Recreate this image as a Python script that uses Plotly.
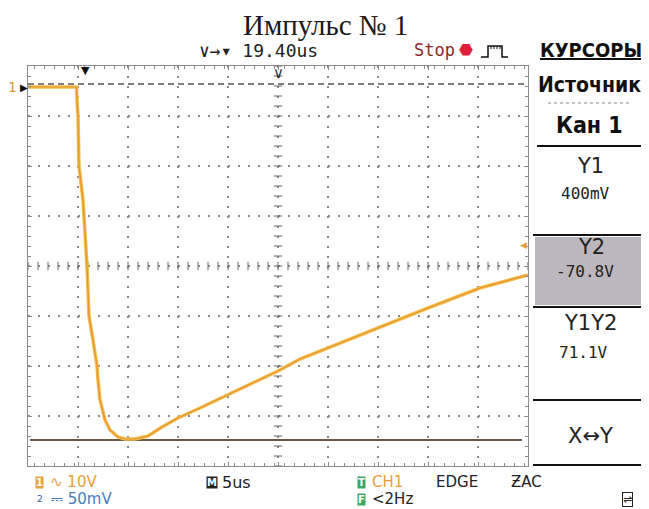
import numpy as np
import plotly.graph_objects as go

# ---- data (oscilloscope CH1 trace) ----
time_us = [-5.6, -3.0, -1.0, -0.75, -0.7, -0.6, -0.5, -0.1, 0.3, 0.5, 0.9, 1.3, 1.4, 1.6,
           2.1, 2.6, 3.4, 4.1, 5.1, 6.4, 7.8, 9.4, 11.6, 14.4, 19.4, 21.6, 24.6, 29.4,
           34.4, 39.6, 44.4]
volts = [-0.2, -0.2, -0.2, -0.2, -2.8, -6.0, -16.0, -22.8, -36.0, -46.0, -50.8, -56.0, -58.8, -62.8,
         -66.8, -68.8, -70.2, -70.6, -70.6, -70.0, -68.2, -66.4, -64.4, -61.8, -57.0, -54.6, -52.2, -48.4,
         -44.4, -40.4, -37.8]
cursor_y1 = 0.4      # V
cursor_y2 = -70.8    # V
delta_y = 71.1
trigger_level = -31.8
h_position_us = 19.40
timebase_us = 5
vdiv = 10

# axis geometry: 10 divisions horizontally, 8 vertically
x_range = [-5.6, 44.4]
y_range = [-76.0, 4.0]
x_tick0, y_tick0 = -0.6, -6.0

# page pixel geometry (browser body margin of 8px is compensated)
OFF = 8
W, H = 649 - OFF, 509 - OFF
L, R, T, B = 28, 528, 66, 466   # page pixels of plot area


def fx(x):
    return (x - L) / (R - L)


def fy(y):
    return (B - y) / (B - T)


fig = go.Figure()

# centre crosshair sub-division ticks
xc = x_tick0 + 4 * timebase_us
yc = y_tick0 - 3 * vdiv
sub_x = np.arange(x_range[0], x_range[1] + 1e-9, timebase_us / 5)
sub_y = np.arange(y_range[0], y_range[1] + 1e-9, vdiv / 5)
fig.add_trace(go.Scatter(x=sub_x, y=[yc] * len(sub_x), mode="markers",
                         marker=dict(symbol="line-ns", size=6, line=dict(width=1, color="#666")),
                         hoverinfo="skip"))
fig.add_trace(go.Scatter(x=[xc] * len(sub_y), y=sub_y, mode="markers",
                         marker=dict(symbol="line-ew", size=6, line=dict(width=1, color="#666")),
                         hoverinfo="skip"))

# cursors
fig.add_trace(go.Scatter(x=x_range, y=[cursor_y1, cursor_y1], mode="lines",
                         line=dict(color="#555", width=1.5, dash="6px,4px"), hoverinfo="skip"))
fig.add_trace(go.Scatter(x=[x_range[0] + 0.2, x_range[1] - 0.6], y=[cursor_y2, cursor_y2], mode="lines",
                         line=dict(color="#6a5a40", width=2), hoverinfo="skip"))

# waveform
fig.add_trace(go.Scatter(x=time_us, y=volts, mode="lines",
                         line=dict(color="#F4BE4C", width=3.5), hoverinfo="skip"))
fig.add_trace(go.Scatter(x=time_us, y=volts, mode="lines",
                         line=dict(color="#E39330", width=1.2), hoverinfo="skip"))

axis_common = dict(showline=True, mirror="allticks", linecolor="#8a8a8a", linewidth=1,
                   ticks="inside", ticklen=4, tickcolor="#8a8a8a", showticklabels=False,
                   showgrid=True, gridcolor="#8a8a8a", gridwidth=1.5, griddash="2px,8px",
                   zeroline=False, fixedrange=True)
fig.update_xaxes(range=x_range, tick0=x_tick0, dtick=timebase_us,
                 minor=dict(ticks="inside", ticklen=3, dtick=timebase_us / 5, tickcolor="#8a8a8a", showgrid=False),
                 **axis_common)
fig.update_yaxes(range=y_range, tick0=y_tick0, dtick=vdiv,
                 minor=dict(ticks="inside", ticklen=3, dtick=vdiv / 5, tickcolor="#8a8a8a", showgrid=False),
                 **axis_common)

ann = []


def txt(x, y, s, size=14, color="#222", family="DejaVu Sans Mono", xa="center", ya="middle", **kw):
    ann.append(dict(x=fx(x), y=fy(y), xref="paper", yref="paper", text=s, showarrow=False,
                    xanchor=xa, yanchor=ya, font=dict(size=size, color=color, family=family), **kw))


NARROW = "Liberation Sans Narrow, DejaVu Sans Condensed, Arial Narrow, sans-serif"

# title
txt(325, 8.5, "Импульс № 1", size=29, color="#1a1a1a", family="Liberation Serif, Times New Roman, serif",
    ya="top", borderpad=0)

# top status bar
txt(258, 51, "∨→▾ 19.40us", size=18, color="#222")
txt(434, 50, "Stop", size=17, color="#8a2a2a")
txt(466, 50, "⬣", size=16, color="#e0203a", family="DejaVu Sans")
txt(591, 50, "<b><u>КУРСОРЫ</u></b>", size=20, color="#111", family=NARROW)

# markers around graticule
txt(12, 87, "1", size=14, color="#D89A3A", family="DejaVu Sans")
txt(24, 87, "▶", size=10, color="#111", family="DejaVu Sans")
txt(85, 70, "▼", size=11, color="#111", family="DejaVu Sans")
txt(278, 73, "∨", size=15, color="#333", family="DejaVu Sans")
txt(523, 245, "◀", size=9, color="#E8A040", family="DejaVu Sans")

# right menu panel
txt(589, 85, "<b>Источник</b>", size=21, color="#111", family=NARROW)
txt(589, 125, "<b>Кан 1</b>", size=23, color="#111", family=NARROW)
txt(590, 166, "Y1", size=21, color="#222", family="DejaVu Sans")
txt(585, 193, "400mV", size=16, color="#222")
txt(591, 247, "Y2", size=21, color="#222", family="DejaVu Sans")
txt(585, 271, "-70.8V", size=16, color="#222")
txt(590, 323, "Y1Y2", size=21, color="#222", family="DejaVu Sans")
txt(583, 352, "71.1V", size=16, color="#222")
txt(590, 436, "X↔Y", size=21, color="#222", family="DejaVu Sans")


# bottom status lines
def badge(x, y, s, bg, fg="white"):
    ann.append(dict(x=fx(x), y=fy(y), xref="paper", yref="paper", text="<b>%s</b>" % s, showarrow=False,
                    xanchor="center", yanchor="middle", bgcolor=bg, borderpad=0,
                    font=dict(size=10, color=fg, family="DejaVu Sans")))


badge(39, 482, "1", "#E8A040")
txt(48, 482, "∿ 10V", size=15, color="#E8A040", family="DejaVu Sans", xa="left")
badge(212, 482, "M", "#222")
txt(220, 482, "5us", size=16, color="#222", family="DejaVu Sans", xa="left")
badge(361, 482, "T", "#3aa860")
txt(370, 482, "CH1", size=15, color="#E8A040", family="DejaVu Sans", xa="left")
txt(434, 482, "EDGE", size=15, color="#222", family="DejaVu Sans", xa="left")
txt(509, 482, "ƵAC", size=15, color="#222", family="DejaVu Sans", xa="left")
txt(40, 499, "2", size=9, color="#3a5a9a", family="DejaVu Sans")
txt(49, 499, "⎓ 50mV", size=15, color="#4a7fc0", family="DejaVu Sans", xa="left")
badge(361, 499, "F", "#3aa860")
txt(370, 499, "<2Hz", size=15, color="#222", family="DejaVu Sans", xa="left")
ann.append(dict(x=fx(627), y=fy(499), xref="paper", yref="paper", text="⇌", showarrow=False,
                xanchor="center", yanchor="middle", bordercolor="#222", borderwidth=1, borderpad=0,
                font=dict(size=11, color="#222", family="DejaVu Sans")))

shapes = []


def hline(y, x0, x1, color="#111", width=2, dash="solid"):
    shapes.append(dict(type="line", xref="paper", yref="paper", x0=fx(x0), x1=fx(x1), y0=fy(y), y1=fy(y),
                       line=dict(color=color, width=width, dash=dash)))


shapes.append(dict(type="rect", xref="paper", yref="paper", x0=fx(535), x1=fx(649), y0=fy(305), y1=fy(237),
                   fillcolor="#bcb7be", line=dict(width=0), layer="below"))
hline(103, 548, 632, color="#888", width=1, dash="dot")
hline(146, 537, 647)
hline(235, 533, 649)
hline(307, 533, 649)
hline(400, 533, 649)
hline(465, 533, 649)

# pulse icon
px = [481, 488, 488, 502, 502, 508]
py = [57, 57, 46, 46, 57, 57]
path = "M " + " L ".join("%f,%f" % (fx(a), fy(b)) for a, b in zip(px, py))
shapes.append(dict(type="path", xref="paper", yref="paper", path=path, line=dict(color="#111", width=1.5)))
for xx in [491, 494, 497, 500]:
    shapes.append(dict(type="line", xref="paper", yref="paper", x0=fx(xx), x1=fx(xx), y0=fy(46), y1=fy(49),
                       line=dict(color="#111", width=1)))

fig.update_layout(width=W, height=H, margin=dict(l=L - OFF, r=W + OFF - R, t=T - OFF, b=H + OFF - B),
                  paper_bgcolor="white", plot_bgcolor="white", showlegend=False,
                  annotations=ann, shapes=shapes)

fig.write_html("out.html")
